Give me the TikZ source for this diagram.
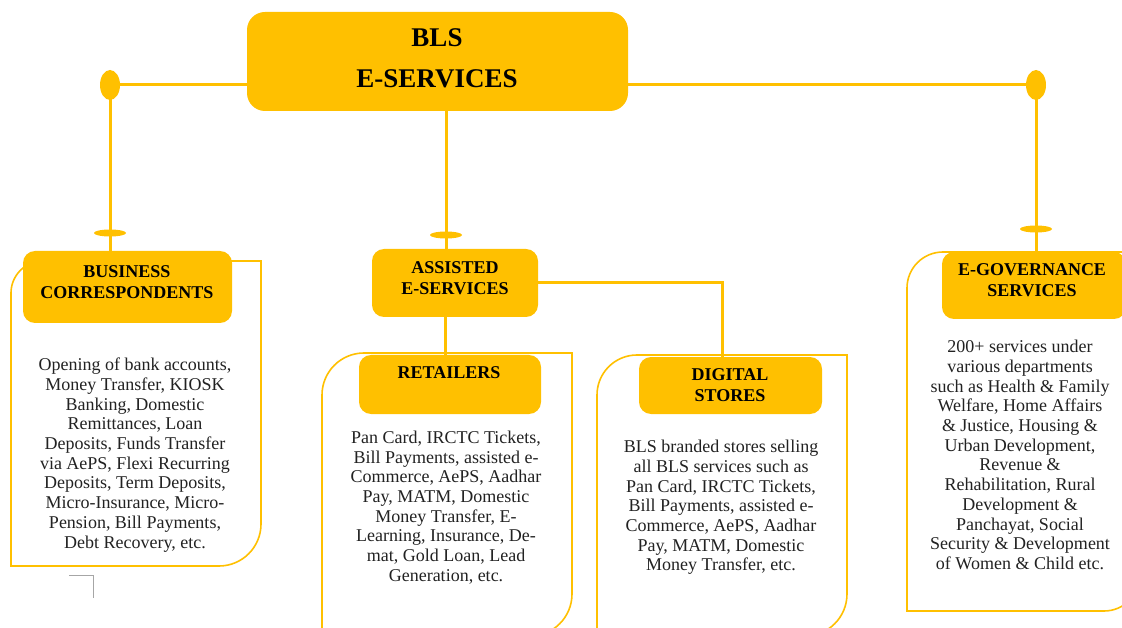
\documentclass[tikz,border=0pt]{standalone}
\usepackage{fontspec}
\setmainfont{Liberation Serif}
\usetikzlibrary{shapes.geometric}
\definecolor{gold}{HTML}{FFC000}
\definecolor{txt}{HTML}{222222}
\begin{document}
\begin{tikzpicture}[x=1pt,y=-1pt,
  goldbox/.style={fill=gold, rounded corners=12pt, inner sep=0pt},
  hdr/.style={font=\bfseries\fontsize{18}{21}\selectfont, align=center, text=black, inner sep=0pt},
  body/.style={font=\fontsize{18}{19.7}\selectfont, align=center, text=txt, inner sep=0pt},
  link/.style={draw=gold, line width=3pt},
  frame/.style={draw=gold, line width=1.6pt},
  dot/.style={ellipse, fill=gold, inner sep=0pt, minimum width=20pt, minimum height=30pt},
  tickmark/.style={ellipse, fill=gold, inner sep=0pt, minimum width=32pt, minimum height=7pt}]
\useasboundingbox (0,0) rectangle (1122,628);
\fill[white] (0,0) rectangle (1122,628);
\begin{scope}
\clip (0,0) rectangle (1122,628);
% frames
\draw[frame] (261,261) -- (261,524) arc[start angle=0,end angle=90,radius=42] -- (11,566) -- (11,293) arc[start angle=180,end angle=270,radius=32] -- cycle;
\draw[frame] (572,353) -- (572,594) arc[start angle=0,end angle=90,radius=42] -- (322,636) -- (322,395) arc[start angle=180,end angle=270,radius=42] -- cycle;
\draw[frame] (847,355) -- (847,594) arc[start angle=0,end angle=90,radius=42] -- (597,636) -- (597,395) arc[start angle=180,end angle=270,radius=40] -- cycle;
\draw[frame] (1140,252) -- (1140,575) arc[start angle=0,end angle=90,radius=36] -- (907,611) -- (907,288) arc[start angle=180,end angle=270,radius=36] -- cycle;
% gold boxes
\node[goldbox, minimum width=381pt, minimum height=99pt, rounded corners=18pt] (main) at (437.5,61.5) {};
\node[goldbox, minimum width=209pt, minimum height=72pt] (bc) at (127.5,287) {};
\node[goldbox, minimum width=166pt, minimum height=68pt] (ase) at (455,283) {};
\node[goldbox, minimum width=182pt, minimum height=59pt] (ret) at (450,384.5) {};
\node[goldbox, minimum width=183pt, minimum height=57pt] (dig) at (730.5,385.5) {};
\node[goldbox, minimum width=184pt, minimum height=67pt] (egov) at (1034,285.5) {};
% titles
\node[font=\bfseries\fontsize{27}{41}\selectfont, align=center, inner sep=0pt] (mainT) at (437,58.5) {BLS\\E-SERVICES};
\node[hdr] (bcT) at (127,282) {BUSINESS\\CORRESPONDENTS};
\node[hdr] (aseT) at (455,278.5) {ASSISTED\\E-SERVICES};
\node[hdr] (retT) at (449,373) {RETAILERS};
\node[hdr] (digT) at (730,385.5) {DIGITAL\\STORES};
\node[hdr] (egovT) at (1032,280) {E-GOVERNANCE\\SERVICES};
% bodies
\node[body] (bcB) at (135,455) {Opening of bank accounts,\\Money Transfer, KIOSK\\Banking, Domestic\\Remittances, Loan\\Deposits, Funds Transfer\\via AePS, Flexi Recurring\\Deposits, Term Deposits,\\Micro-Insurance, Micro-\\Pension, Bill Payments,\\Debt Recovery, etc.};
\node[body] (retB) at (446,507.5) {Pan Card, IRCTC Tickets,\\Bill Payments, assisted e-\\Commerce, AePS, Aadhar\\Pay, MATM, Domestic\\Money Transfer, E-\\Learning, Insurance, De-\\mat, Gold Loan, Lead\\Generation, etc.};
\node[body] (digB) at (721,507.5) {BLS branded stores selling\\all BLS services such as\\Pan Card, IRCTC Tickets,\\Bill Payments, assisted e-\\Commerce, AePS, Aadhar\\Pay, MATM, Domestic\\Money Transfer, etc.};
\node[body] (egovB) at (1020,455) {200+ services under\\various departments\\such as Health \& Family\\Welfare, Home Affairs\\\& Justice, Housing \&\\Urban Development,\\Revenue \&\\Rehabilitation, Rural\\Development \&\\Panchayat, Social\\Security \& Development\\of Women \& Child etc.};
% connectors
\node[dot] (dotL) at (110,85) {};
\node[dot] (dotR) at (1036,85) {};
\node[tickmark] (tkL) at (110,233) {};
\node[tickmark] (tkM) at (446,235) {};
\node[tickmark] (tkR) at (1036,229) {};
\coordinate (vr) at (445,335);
\coordinate (vd) at (722,320);
\draw[link] (main.west |- dotL) -- (dotL.center);
\draw[link] (dotL.center) -- (dotL |- bc.north);
\draw[link] (main.east |- dotR) -- (dotR.center);
\draw[link] (dotR.center) -- (dotR |- egov.north);
\draw[link] (main.south -| tkM) -- (ase.north -| tkM);
\draw[link] (ase.south -| vr) -- (ret.north -| vr);
\draw[link] (ase.east) -| (dig.north -| vd);
% crop mark
\draw[gray!70, line width=1pt] (69,575) -- (93,575) -- (93,598);
\end{scope}
\end{tikzpicture}
\end{document}
